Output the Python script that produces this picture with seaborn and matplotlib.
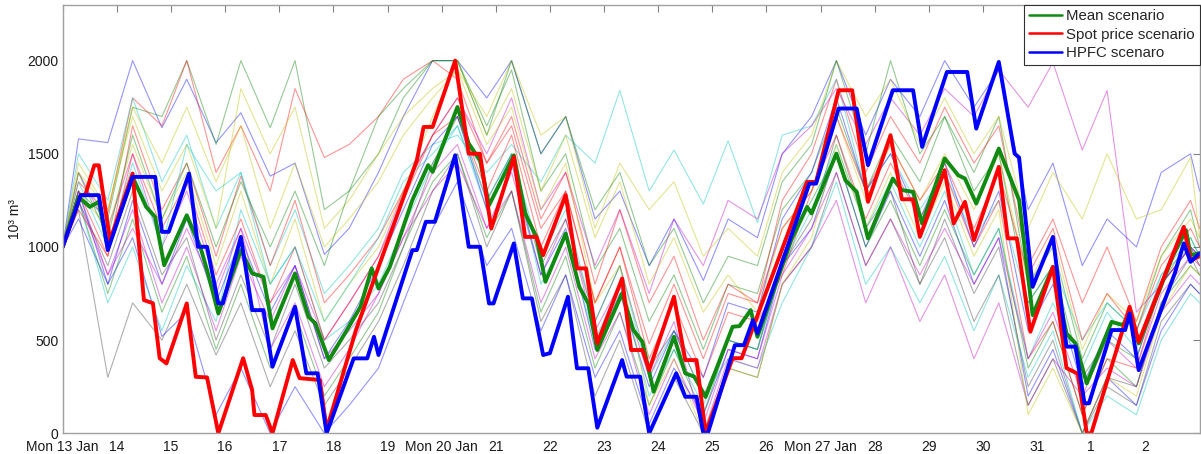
import numpy as np
import pandas as pd
import matplotlib
matplotlib.use("Agg")
import matplotlib.pyplot as plt
import seaborn as sns

# ---------------- data ----------------
DAY_LABELS = ['Mon 13 Jan', '14', '15', '16', '17', '18', '19', 'Mon 20 Jan', '21', '22',
              '23', '24', '25', '26', 'Mon 27 Jan', '28', '29', '30', '31', '1', '2']

# thick scenarios: hours since Mon 13 Jan 00:00, storage in 10^3 m^3
GREEN_H = [0, 7, 12, 16, 20, 31, 37, 41, 45, 55, 61, 64, 69, 79, 84, 89, 93, 103, 109, 112, 118, 126,
           132, 137, 140, 145, 155, 162, 164, 175, 180, 185, 189, 200, 205, 210, 214, 223, 229, 233,
           237, 248, 253, 257, 262, 271, 276, 280, 285, 297, 300, 305, 308, 323, 330, 332, 343, 347,
           352, 357, 368, 372, 377, 381, 391, 397, 400, 405, 415, 424, 430, 439, 445, 449, 454, 465,
           470, 473, 477, 492, 498, 500, 504]
GREEN_V = [1000, 1269, 1215, 1242, 992, 1376, 1215, 1161, 902, 1170, 1001, 876, 643, 983, 858, 840,
           563, 858, 625, 590, 393, 554, 679, 885, 777, 893, 1251, 1439, 1403, 1751, 1555, 1465, 1224,
           1492, 1180, 1054, 813, 1072, 786, 697, 447, 751, 554, 491, 223, 518, 322, 304, 195, 572, 575,
           661, 518, 1037, 1215, 1180, 1501, 1358, 1296, 1046, 1367, 1305, 1296, 1126, 1475, 1385, 1367,
           1233, 1528, 1251, 634, 893, 536, 483, 268, 598, 581, 643, 483, 947, 1090, 956, 966]

RED_H = [0, 8, 10, 14, 16, 21, 31, 36, 40, 43, 46, 55, 59, 64, 69, 80, 84, 85, 90, 93, 102, 105, 114,
         117, 130, 157, 160, 164, 174, 180, 185, 190, 200, 205, 210, 213, 223, 228, 232, 237, 248, 252,
         257, 260, 271, 276, 281, 285, 294, 297, 301, 330, 334, 344, 350, 357, 367, 372, 377, 380, 391,
         395, 400, 404, 415, 419, 423, 429, 439, 445, 450, 454, 456, 473, 477, 497, 500, 504]
RED_V = [1000, 1278, 1278, 1438, 1438, 1036, 1394, 715, 698, 403, 375, 697, 303, 300, 0, 403, 232, 98,
         98, 0, 393, 296, 286, 20, 554, 1465, 1644, 1644, 2000, 1501, 1500, 1099, 1483, 1054, 1054, 956,
         1278, 885, 885, 483, 831, 447, 447, 339, 733, 393, 393, 0, 304, 403, 403, 1349, 1349, 1841,
         1841, 1242, 1600, 1256, 1256, 1054, 1412, 1126, 1242, 1037, 1430, 1046, 1046, 545, 893, 350,
         320, 0, 0, 679, 491, 1108, 929, 950]

BLUE_H = [0, 8, 16, 20, 31, 41, 44, 47, 56, 60, 64, 69, 71, 79, 84, 89, 93, 103, 108, 113, 117, 129,
          135, 138, 140, 155, 157, 161, 165, 174, 180, 185, 189, 191, 200, 204, 208, 213, 216, 224, 228,
          233, 237, 248, 250, 256, 260, 272, 276, 281, 284, 286, 298, 302, 306, 308, 331, 334, 344, 352,
          357, 368, 377, 381, 392, 401, 405, 415, 422, 424, 430, 439, 445, 449, 453, 455, 465, 471, 473,
          477, 493, 497, 500, 504]
BLUE_V = [1000, 1278, 1278, 983, 1376, 1376, 1081, 1081, 1394, 1001, 1001, 697, 697, 1054, 661, 661,
          357, 679, 322, 322, 0, 402, 402, 518, 420, 983, 983, 1135, 1135, 1492, 1001, 1001, 697, 697,
          1019, 724, 724, 420, 430, 733, 349, 349, 30, 393, 304, 304, 0, 322, 196, 196, 0, 0, 473, 473,
          607, 536, 1340, 1340, 1743, 1743, 1439, 1841, 1841, 1537, 1939, 1939, 1635, 1993, 1501, 1480,
          786, 1054, 465, 465, 161, 161, 554, 554, 643, 339, 858, 1019, 920, 966]

# thin scenarios, sampled at the daily highs / lows (hours since start)
THIN_H = [0, 7, 20, 31, 44, 55, 68, 79, 92, 103, 116, 127, 140, 151, 164, 175, 188, 199, 212, 223, 236,
          247, 260, 271, 284, 295, 308, 319, 332, 343, 356, 367, 380, 391, 404, 415, 428, 439, 452, 463,
          476, 487, 500, 504]
S01 = [1000, 1580, 1560, 2000, 1640, 1900, 1560, 1720, 1380, 1450, 960, 1100, 1400, 1700, 2000, 2000, 1800, 2000, 1500, 1700, 1150, 1300, 900, 1150, 820, 1150, 1050, 1500, 1700, 2000, 1600, 1900, 1700, 2000, 1750, 1950, 1200, 1450, 900, 1150, 1000, 1400, 1500, 1300]
S02 = [1000, 1300, 1150, 1750, 1700, 2000, 1550, 2000, 1640, 2000, 1200, 1300, 1500, 1800, 2000, 2000, 1650, 1950, 1300, 1500, 880, 1100, 600, 850, 450, 800, 750, 1200, 1400, 1750, 1300, 1600, 1350, 1700, 1400, 1700, 800, 1000, 400, 700, 550, 950, 1200, 1000]
S03 = [1000, 1350, 1180, 1800, 1650, 2000, 1400, 1650, 1300, 1850, 1480, 1550, 1700, 1900, 2000, 1900, 1450, 1650, 1100, 1300, 700, 1000, 480, 800, 400, 750, 700, 1250, 1500, 1900, 1400, 1700, 1450, 1750, 1450, 1650, 900, 1150, 700, 1000, 600, 1000, 1250, 1100]
S04 = [1000, 1500, 1250, 1800, 1350, 1600, 1100, 1400, 900, 1200, 750, 900, 1100, 1400, 1550, 1600, 1400, 1550, 1350, 1600, 1450, 1840, 1300, 1520, 1230, 1570, 1130, 1600, 1650, 1900, 1300, 1500, 1200, 1400, 1050, 1250, 700, 900, 500, 700, 550, 850, 1000, 900]
S05 = [1000, 1400, 1100, 1500, 1000, 1300, 800, 1100, 700, 900, 500, 700, 950, 1300, 1600, 1800, 1500, 1800, 1200, 1400, 900, 1200, 750, 1150, 900, 1250, 1150, 1500, 1650, 1850, 1550, 1800, 1600, 1850, 1700, 1950, 1750, 1990, 1520, 1840, 650, 800, 1000, 950]
S06 = [1000, 1450, 1200, 1700, 1300, 1550, 1100, 1850, 1500, 1750, 1100, 1250, 1500, 1700, 1850, 1950, 1700, 2000, 1600, 1700, 1100, 1450, 1200, 1350, 950, 1100, 950, 1400, 1600, 2000, 1700, 1900, 1550, 1800, 1500, 1700, 1100, 1400, 1150, 1500, 1150, 1200, 1480, 1050]
S07 = [1000, 1200, 300, 700, 500, 800, 420, 700, 250, 550, 150, 350, 600, 900, 1300, 1500, 1000, 1300, 600, 850, 200, 500, 0, 300, 0, 350, 300, 800, 1000, 1400, 900, 1150, 800, 1150, 750, 1000, 250, 500, 0, 250, 150, 600, 800, 750]
S08 = [1000, 1150, 800, 1050, 520, 650, 100, 350, 0, 250, 0, 150, 350, 700, 1100, 1350, 900, 1100, 550, 850, 300, 550, 50, 350, 100, 450, 400, 900, 1100, 1500, 1000, 1300, 950, 1250, 800, 1050, 200, 450, 0, 300, 150, 550, 800, 750]
S09 = [1000, 1250, 750, 1150, 650, 950, 450, 800, 350, 650, 200, 400, 650, 1000, 1350, 1500, 1050, 1300, 650, 950, 350, 650, 150, 450, 100, 500, 450, 950, 1250, 1500, 1000, 1250, 900, 1200, 850, 1100, 350, 600, 100, 400, 250, 700, 900, 850]
S10 = [1000, 1300, 950, 1650, 1200, 1450, 950, 1380, 900, 1250, 700, 850, 1050, 1300, 1600, 1700, 1300, 1600, 1000, 1300, 700, 1000, 400, 700, 300, 650, 600, 850, 1300, 1600, 1150, 1450, 1150, 1400, 1000, 1250, 400, 600, 100, 400, 350, 800, 1000, 900]
S11 = [1000, 1250, 700, 1000, 550, 900, 600, 1200, 800, 1000, 500, 600, 800, 1100, 1450, 1650, 1200, 1500, 950, 1200, 600, 900, 300, 550, 200, 400, 350, 700, 1000, 1350, 800, 1000, 700, 950, 550, 850, 300, 550, 0, 200, 100, 500, 750, 700]
S12 = [1000, 1300, 850, 1200, 700, 1000, 550, 950, 600, 900, 400, 550, 750, 1050, 1300, 1450, 1100, 1400, 850, 1150, 550, 800, 300, 600, 0, 400, 350, 800, 1000, 1250, 700, 1000, 600, 850, 400, 700, 150, 400, 200, 350, 250, 650, 850, 800]
S13 = [1000, 1300, 1100, 1550, 1150, 1400, 900, 1300, 800, 1150, 600, 800, 1000, 1300, 1700, 2000, 1600, 1850, 1300, 1600, 1050, 1350, 800, 1050, 650, 850, 650, 1100, 1300, 1700, 1250, 1550, 1250, 1500, 1200, 1500, 800, 1050, 450, 750, 600, 950, 1150, 1050]
S14 = [1000, 1250, 900, 1300, 850, 1050, 500, 850, 450, 800, 350, 500, 700, 1000, 1450, 1700, 1250, 1500, 900, 1150, 600, 900, 350, 550, 200, 500, 450, 900, 1150, 1600, 1100, 1300, 800, 1050, 600, 850, 150, 400, 0, 300, 250, 700, 950, 850]
S15 = [1000, 1300, 800, 1250, 800, 1150, 700, 1050, 650, 900, 400, 600, 900, 1200, 1550, 1700, 1200, 1450, 850, 1100, 450, 750, 250, 550, 300, 700, 650, 1150, 1400, 1800, 1300, 1500, 1150, 1450, 1000, 1300, 550, 800, 250, 550, 400, 800, 1000, 950]
S16 = [1000, 1400, 1050, 1600, 1150, 1450, 1000, 1350, 1000, 1300, 900, 1300, 1700, 1850, 2000, 2000, 1600, 2000, 1500, 1700, 1200, 1400, 900, 1100, 700, 950, 900, 1350, 1550, 2000, 1500, 2000, 1500, 1700, 1300, 1500, 700, 900, 300, 500, 400, 800, 1050, 950]
S17 = [1000, 1200, 950, 1500, 1100, 1350, 850, 1150, 700, 1000, 500, 700, 950, 1250, 1600, 1800, 1450, 1700, 1150, 1400, 800, 1200, 700, 950, 500, 800, 700, 1100, 1300, 1700, 1300, 1550, 1250, 1450, 1100, 1400, 850, 1100, 500, 750, 550, 900, 1100, 1000]
S18 = [1000, 1350, 1000, 1450, 1000, 1550, 1300, 1400, 800, 1000, 600, 800, 1050, 1350, 1500, 1650, 1250, 1500, 800, 1050, 500, 800, 200, 450, 150, 500, 450, 900, 1200, 1550, 1100, 1350, 1000, 1300, 850, 1100, 400, 700, 350, 650, 450, 850, 1050, 950]
S19 = [1000, 1250, 850, 1100, 800, 1100, 750, 1100, 450, 700, 250, 450, 750, 1050, 1400, 1550, 1100, 1300, 700, 1000, 400, 650, 100, 400, 50, 450, 400, 850, 1100, 1400, 900, 1150, 850, 1100, 800, 1050, 400, 650, 200, 500, 350, 750, 950, 900]
S20 = [1000, 1400, 1200, 1750, 1450, 1750, 1350, 1650, 1100, 1450, 1000, 1150, 1350, 1600, 1800, 1950, 1550, 1750, 1200, 1450, 700, 900, 150, 400, 0, 350, 300, 800, 1050, 1550, 1100, 1400, 1050, 1350, 950, 1200, 100, 350, 0, 300, 200, 650, 900, 850]
THIN = [S01, S02, S03, S04, S05, S06, S07, S08, S09, S10, S11, S12, S13, S14, S15, S16, S17, S18, S19, S20]

THIN_COLORS = ['#0000ff', '#008000', '#ff0000', '#00bfbf', '#bf00bf', '#bfbf00', '#404040']

# ---------------- figure ----------------
sns.set_style('white')
plt.rcParams['font.family'] = ['Liberation Sans', 'DejaVu Sans']

fig = plt.figure(figsize=(12.01, 4.54), dpi=100)
ax = fig.add_axes([0.0522, 0.0456, 0.9466, 0.944])

rows = []
for i, vals in enumerate(THIN):
    for h, v in zip(THIN_H, vals):
        rows.append((f's{i:02d}', h / 24.0, v))
thin_df = pd.DataFrame(rows, columns=['scenario', 'day', 'value'])
pal = [THIN_COLORS[i % len(THIN_COLORS)] for i in range(len(THIN))]
sns.lineplot(data=thin_df, x='day', y='value', hue='scenario', palette=pal,
             estimator=None, sort=False, legend=False, linewidth=0.8, alpha=0.42, ax=ax)

for H, V, col, lab in [(GREEN_H, GREEN_V, '#108a10', 'Mean scenario'),
                       (RED_H, RED_V, '#ff0000', 'Spot price scenario'),
                       (BLUE_H, BLUE_V, '#0000ff', 'HPFC scenaro')]:
    d = pd.DataFrame({'day': np.array(H) / 24.0, 'value': V})
    sns.lineplot(data=d, x='day', y='value', color=col, linewidth=2.8,
                 estimator=None, sort=False, label=lab, ax=ax)

ax.set_xlim(0, 21)
ax.set_ylim(0, 2300)
ax.set_xticks(range(len(DAY_LABELS)))
ax.set_xticklabels(DAY_LABELS)
ax.set_yticks([0, 500, 1000, 1500, 2000])
ax.set_xlabel('')
ax.set_ylabel('10³ m³', fontsize=10, labelpad=4, color='#1a1a1a')
ax.tick_params(direction='in', length=5, width=0.8, top=True, right=True,
               labelsize=10, colors='#1a1a1a')
ax.tick_params(axis='x', pad=5)
ax.tick_params(axis='y', pad=3)
ax.tick_params(which='both', color='#808080')
for s in ax.spines.values():
    s.set_color('#a0a0a0')
    s.set_linewidth(1.0)

leg = ax.legend(loc='upper right', borderaxespad=0.0, fancybox=False, framealpha=1,
                edgecolor='#303030', fontsize=10.8, handlelength=2.2, handletextpad=0.3,
                borderpad=0.3, labelspacing=0.3)
leg.get_frame().set_linewidth(0.8)
for ln in leg.get_lines():
    ln.set_linewidth(1.8)

fig.savefig('out.png', dpi=100)
